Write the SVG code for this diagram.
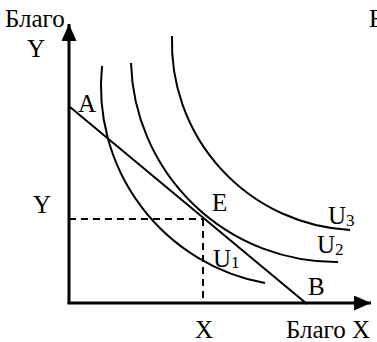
<svg xmlns="http://www.w3.org/2000/svg" width="377" height="342" viewBox="0 0 377 342">
<style>
text{font-family:"Liberation Serif","Times New Roman",serif;font-size:25px;fill:#000}
.sub{font-size:17px}
.curve{fill:none;stroke:#000;stroke-width:2}
.axis{fill:none;stroke:#000;stroke-width:3}
.dash{fill:none;stroke:#000;stroke-width:2;stroke-dasharray:7 5}
</style>
<defs>
<marker id="arr" markerUnits="userSpaceOnUse" markerWidth="18" markerHeight="16" refX="17" refY="7.5" orient="auto">
<path d="M0,0 L17,7.5 L0,15 z" fill="#000"/>
</marker>
</defs>
<rect width="377" height="342" fill="#fff"/>
<g id="connectors">
<path id="axisY" class="axis" d="M69,304 L69,24" marker-end="url(#arr)"/>
<path id="axisX" class="axis" d="M67.5,303 L371,303" marker-end="url(#arr)"/>
<path id="dashY" class="dash" d="M69,219 L203,219"/>
<path id="dashX" class="dash" d="M203,219 L203,303"/>
<path id="budget" class="curve" d="M70,107 L307,304"/>
</g>
<g id="U1"><path class="curve" d="M102,66 A200 200 0 0 0 265,283"/></g>
<g id="U2"><path class="curve" d="M131,63 A205 205 0 0 0 338,262"/></g>
<g id="U3"><path class="curve" d="M172,36 A188 188 0 0 0 350,230"/></g>
<g id="labels">
<text x="5" y="27">Благо</text>
<text x="369" y="27">Благо</text>
<text x="27" y="57">Y</text>
<text x="78" y="112">A</text>
<text x="33" y="213">Y</text>
<text x="212" y="211">E</text>
<text x="328" y="224">U<tspan class="sub" y="226">3</tspan></text>
<text x="317" y="253">U<tspan class="sub" y="255">2</tspan></text>
<text x="213" y="267">U<tspan class="sub" y="268">1</tspan></text>
<text x="308" y="295">B</text>
<text x="195" y="338">X</text>
<text x="286" y="338">Благо X</text>
</g>
</svg>
